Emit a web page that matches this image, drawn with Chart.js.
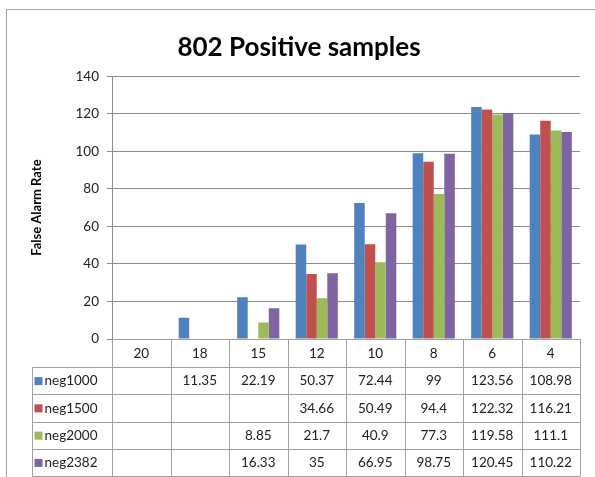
<!DOCTYPE html>
<html>
<head>
<meta charset="utf-8">
<script src="https://cdn.jsdelivr.net/npm/chart.js@4.4.1/dist/chart.umd.min.js"></script>
<style>
  body { margin: 0; background: #fff; }
  #wrap { width: 595px; height: 477px; position: relative; }
</style>
</head>
<body>
<div id="wrap"><canvas id="chart"></canvas></div>
<script>
// dades llegides de la imatge
const categories = ['20', '18', '15', '12', '10', '8', '6', '4'];
const neg1000 = [null, 11.35, 22.19, 50.37, 72.44, 99, 123.56, 108.98];
const neg1500 = [null, null, null, 34.66, 50.49, 94.4, 122.32, 116.21];
const neg2000 = [null, null, 8.85, 21.7, 40.9, 77.3, 119.58, 111.1];
const neg2382 = [null, null, 16.33, 35, 66.95, 98.75, 120.45, 110.22];
const yTicks = [0, 20, 40, 60, 80, 100, 120, 140];

const FONT = 'Lato, "Open Sans", sans-serif';
const colors = ['#4f81bd', '#c0504d', '#9bbb59', '#8064a2'];
const names = ['neg1000', 'neg1500', 'neg2000', 'neg2382'];
const seriesData = [neg1000, neg1500, neg2000, neg2382];

// taula de dades sota el grafic, tipus Excel
const tablePlugin = {
    id: 'dataTable',
    beforeDraw(chart) {
        const ctx = chart.ctx;
        ctx.save();
        ctx.strokeStyle = '#a6a6a6';
        ctx.lineWidth = 1;
        ctx.strokeRect(6.5, 9.5, chart.width + 10, chart.height + 10);
        ctx.restore();
    },
    afterDraw(chart) {
        const ctx = chart.ctx;
        const x = chart.scales.x;
        const area = chart.chartArea;
        const n = categories.length;
        const colW = (area.right - area.left) / n;
        const top = Math.round(area.bottom) + 0.5;
        const headBottom = Math.round(x.bottom) + 0.5;
        const rowH = 27.25;
        const tableLeft = 32.5;
        const bottom = Math.round(headBottom + rowH * seriesData.length) - 0.5;

        ctx.save();
        ctx.strokeStyle = '#a0a0a0';
        ctx.lineWidth = 1;
        ctx.beginPath();
        ctx.moveTo(area.left, top); ctx.lineTo(area.right, top);
        for (let r = 0; r <= seriesData.length; r++) {
            const y = Math.round(headBottom + r * rowH - 0.5) + 0.5;
            ctx.moveTo(tableLeft, y); ctx.lineTo(area.right, y);
        }
        for (let c = 0; c <= n; c++) {
            const xx = Math.round(area.left + c * colW) + 0.5;
            ctx.moveTo(xx, top); ctx.lineTo(xx, bottom);
        }
        ctx.moveTo(tableLeft, headBottom); ctx.lineTo(tableLeft, bottom);
        ctx.stroke();

        ctx.font = '13.5px ' + FONT;
        ctx.textBaseline = 'middle';
        seriesData.forEach((vals, r) => {
            const cy = headBottom + r * rowH + rowH / 2;
            // llegenda
            ctx.fillStyle = colors[r];
            ctx.fillRect(tableLeft + 2, cy - 4, 8, 8);
            ctx.fillStyle = '#222';
            ctx.textAlign = 'left';
            ctx.fillText(names[r], tableLeft + 12, cy);
            // valors
            ctx.textAlign = 'center';
            vals.forEach((v, i) => {
                if (v === null) return;
                ctx.fillText(String(v), x.getPixelForValue(i), cy);
            });
        });
        ctx.restore();
    }
};

new Chart(document.getElementById('chart'), {
    type: 'bar',
    data: {
        labels: categories,
        datasets: seriesData.map((d, i) => ({
            label: names[i],
            data: d,
            backgroundColor: colors[i],
            borderWidth: 0,
            categoryPercentage: 0.72,
            barPercentage: 1.0
        }))
    },
    options: {
        responsive: true,
        maintainAspectRatio: false,
        animation: false,
        layout: { padding: { left: 18, right: 15, top: 0, bottom: 110 } },
        plugins: {
            legend: { display: false },
            tooltip: { enabled: false },
            title: {
                display: true,
                text: '802 Positive samples',
                color: '#000',
                font: { family: FONT, size: 26, weight: 'bold' },
                padding: { top: 32, bottom: 13 }
            }
        },
        scales: {
            x: {
                grid: { display: false, drawTicks: false },
                border: { display: true, color: '#8c8c8c' },
                ticks: { color: '#222', font: { family: FONT, size: 13.5 }, padding: 7 },
                afterFit(scale) { scale.height = 28; }
            },
            y: {
                min: 0,
                max: 140,
                afterBuildTicks(scale) { scale.ticks = yTicks.map(v => ({ value: v })); },
                grid: { color: '#8c8c8c', tickLength: 5 },
                border: { color: '#8c8c8c' },
                ticks: { color: '#222', font: { family: FONT, size: 13.5 }, padding: 8 },
                title: {
                    display: true,
                    text: 'False Alarm Rate',
                    color: '#000',
                    font: { family: FONT, size: 13, weight: 'bold' },
                    padding: { top: 11 }
                },
                afterFit(scale) { scale.width = 94; }
            }
        }
    },
    plugins: [tablePlugin]
});
</script>
</body>
</html>
